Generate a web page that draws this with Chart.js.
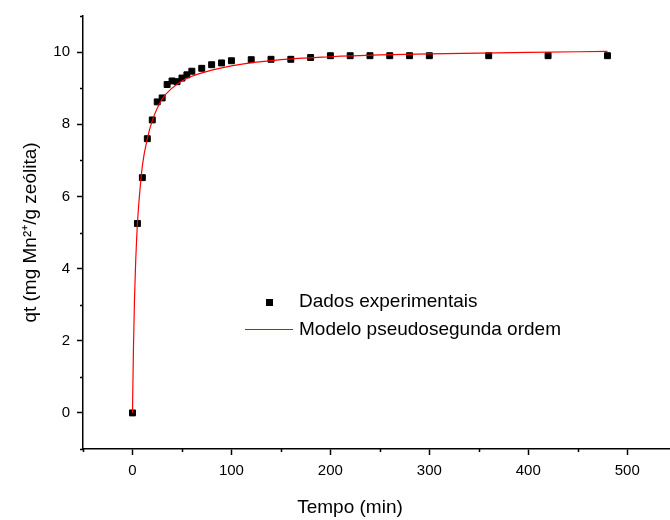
<!DOCTYPE html>
<html>
<head>
<meta charset="utf-8">
<script src="https://cdn.jsdelivr.net/npm/chart.js@4.4.0/dist/chart.umd.min.js"></script>
<style>
    body { margin: 0; background: #fff; overflow: hidden; }
    #wrap { width: 670px; height: 520px; overflow: hidden; }
</style>
</head>
<body>
<div id="wrap"><canvas id="grafico" width="675" height="520"></canvas></div>
<script>
const tempoExp = [0, 5, 10, 15, 20, 25, 30, 35, 40, 45, 50, 55, 60, 70, 80, 90, 100, 120, 140, 160, 180, 200, 220, 240, 260, 280, 300, 360, 420, 480];
const qtExp = [0, 5.25, 6.52, 7.6, 8.12, 8.62, 8.73, 9.1, 9.2, 9.18, 9.28, 9.37, 9.47, 9.55, 9.65, 9.7, 9.76, 9.79, 9.8, 9.8, 9.85, 9.9, 9.9, 9.9, 9.9, 9.9, 9.9, 9.9, 9.9, 9.9];

// Curva do modelo pseudosegunda ordem
const tempoModelo = [0, 1, 2, 3, 5, 7, 10, 15, 20, 30, 40, 50, 60, 80, 100, 150, 200, 250, 300, 350, 400, 480];
const qtModelo = [0, 1.8, 3.1, 4.0, 5.25, 6.0, 6.85, 7.6, 8.1, 8.7, 9.0, 9.2, 9.33, 9.5, 9.62, 9.79, 9.87, 9.92, 9.95, 9.97, 9.99, 10.02];

const xTicksMostrados = [0, 100, 200, 300, 400, 500];
const yTicksMostrados = [0, 2, 4, 6, 8, 10];

const fonte = "'Liberation Sans', Arial, sans-serif";

// ticks menores (curtos) nos valores sem rótulo
const ticksMenores = {
    id: 'ticksMenores',
    afterDraw(chart) {
        const ctx = chart.ctx;
        const sx = chart.scales.x, sy = chart.scales.y;
        ctx.save();
        ctx.strokeStyle = '#000';
        ctx.lineWidth = 1.5;
        ctx.beginPath();
        sx.ticks.forEach(t => {
            if (xTicksMostrados.includes(t.value)) return;
            const px = Math.round(sx.getPixelForValue(t.value)) + 0.5;
            ctx.moveTo(px, sx.top);
            ctx.lineTo(px, sx.top + 3);
        });
        sy.ticks.forEach(t => {
            if (yTicksMostrados.includes(t.value)) return;
            const py = Math.round(sy.getPixelForValue(t.value)) + 0.5;
            ctx.moveTo(sy.right, py);
            ctx.lineTo(sy.right - 3, py);
        });
        ctx.stroke();
        ctx.restore();
    }
};

// legenda e título do eixo x
const extras = {
    id: 'extras',
    afterDraw(chart) {
        const ctx = chart.ctx;
        ctx.save();
        ctx.font = "19px " + fonte;
        ctx.fillStyle = '#000';
        ctx.textBaseline = 'middle';
        ctx.textAlign = 'left';
        ctx.fillRect(266, 299, 7, 7);
        ctx.fillText('Dados experimentais', 299, 302);
        ctx.strokeStyle = '#ff0000';
        ctx.lineWidth = 1;
        ctx.beginPath();
        ctx.moveTo(245, 329.5);
        ctx.lineTo(293, 329.5);
        ctx.stroke();
        ctx.fillText('Modelo pseudosegunda ordem', 299, 330);
        ctx.textAlign = 'center';
        ctx.fillText('Tempo (min)', 350, 508);
        ctx.restore();
    }
};

const grafico = new Chart(document.getElementById('grafico'), {
    type: 'scatter',
    data: {
        datasets: [
            {
                label: 'Modelo pseudosegunda ordem',
                data: tempoModelo.map((t, i) => ({ x: t, y: qtModelo[i] })),
                showLine: true,
                borderColor: '#ff0000',
                borderWidth: 1.2,
                pointRadius: 0,
                cubicInterpolationMode: 'monotone',
                order: 0
            },
            {
                label: 'Dados experimentais',
                data: tempoExp.map((t, i) => ({ x: t, y: qtExp[i] })),
                showLine: false,
                pointStyle: 'rect',
                pointRadius: 4.2,
                backgroundColor: '#000',
                borderColor: '#000',
                borderWidth: 1,
                order: 1
            }
        ]
    },
    options: {
        responsive: false,
        animation: false,
        devicePixelRatio: 1,
        layout: { padding: { top: 13, right: 0, bottom: 0, left: 0 } },
        plugins: {
            legend: { display: false },
            tooltip: { enabled: false }
        },
        scales: {
            x: {
                type: 'linear',
                min: -50,
                max: 543,
                afterFit: s => { s.height = 71; },
                border: { color: '#000', width: 1.5 },
                grid: {
                    drawOnChartArea: false,
                    tickLength: 6,
                    tickWidth: 1.5,
                    tickColor: c => xTicksMostrados.includes(c.tick.value) ? '#000' : 'rgba(0,0,0,0)'
                },
                ticks: {
                    stepSize: 50,
                    includeBounds: false,
                    autoSkip: false,
                    maxRotation: 0,
                    padding: 7,
                    color: '#000',
                    font: { family: fonte, size: 15 },
                    callback: v => xTicksMostrados.includes(v) ? String(v) : ''
                }
            },
            y: {
                type: 'linear',
                min: -1,
                max: 11,
                afterFit: s => { s.width = 83; },
                border: { color: '#000', width: 1.5 },
                grid: {
                    drawOnChartArea: false,
                    tickLength: 6,
                    tickWidth: 1.5,
                    tickColor: c => yTicksMostrados.includes(c.tick.value) ? '#000' : 'rgba(0,0,0,0)'
                },
                ticks: {
                    stepSize: 1,
                    autoSkip: false,
                    padding: 7,
                    color: '#000',
                    font: { family: fonte, size: 15 },
                    callback: v => yTicksMostrados.includes(v) ? String(v) : ''
                },
                title: {
                    display: true,
                    text: 'qt (mg Mn²⁺/g zeólita)',
                    color: '#000',
                    font: { family: fonte, size: 19 },
                    padding: { top: 19, bottom: 0 }
                }
            }
        }
    },
    plugins: [ticksMenores, extras]
});
</script>
</body>
</html>
